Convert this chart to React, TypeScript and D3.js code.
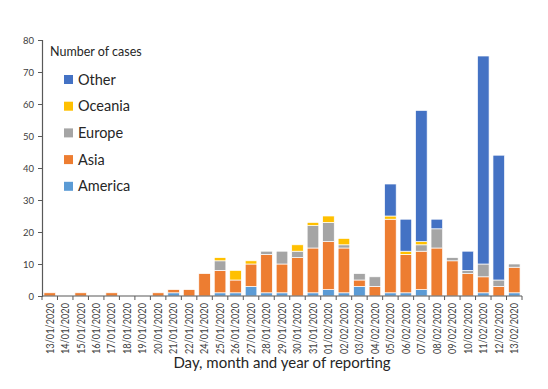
import React, { useRef, useEffect } from 'react';
import * as d3 from 'd3';

const dates = [
  '13/01/2020', '14/01/2020', '15/01/2020', '16/01/2020', '17/01/2020', '18/01/2020',
  '19/01/2020', '20/01/2020', '21/01/2020', '22/01/2020', '24/01/2020', '25/01/2020',
  '26/01/2020', '27/01/2020', '28/01/2020', '29/01/2020', '30/01/2020', '31/01/2020',
  '01/02/2020', '02/02/2020', '03/02/2020', '04/02/2020', '05/02/2020', '06/02/2020',
  '07/02/2020', '08/02/2020', '09/02/2020', '10/02/2020', '11/02/2020', '12/02/2020',
  '13/02/2020',
];

const america = [0, 0, 0, 0, 0, 0, 0, 0, 1, 0, 0, 1, 1, 3, 1, 1, 0, 1, 2, 1, 3, 0, 1, 1, 2, 0, 0, 0, 1, 0, 1];
const asia = [1, 0, 1, 0, 1, 0, 0, 1, 1, 2, 7, 7, 4, 7, 12, 9, 12, 14, 15, 14, 2, 3, 23, 12, 12, 15, 11, 7, 5, 3, 8];
const europe = [0, 0, 0, 0, 0, 0, 0, 0, 0, 0, 0, 3, 0, 0, 1, 4, 2, 7, 6, 1, 2, 3, 0, 0, 2, 6, 1, 1, 4, 2, 1];
const oceania = [0, 0, 0, 0, 0, 0, 0, 0, 0, 0, 0, 1, 3, 1, 0, 0, 2, 1, 2, 2, 0, 0, 1, 1, 1, 0, 0, 0, 0, 0, 0];
const other = [0, 0, 0, 0, 0, 0, 0, 0, 0, 0, 0, 0, 0, 0, 0, 0, 0, 0, 0, 0, 0, 0, 10, 10, 41, 3, 0, 6, 65, 39, 0];

const yTicks = [0, 10, 20, 30, 40, 50, 60, 70, 80];

// stacking order bottom -> top
const series = [
  { name: 'America', values: america, color: '#5b9bd5' },
  { name: 'Asia', values: asia, color: '#ed7d31' },
  { name: 'Europe', values: europe, color: '#a5a5a5' },
  { name: 'Oceania', values: oceania, color: '#ffc000' },
  { name: 'Other', values: other, color: '#4472c4' },
];

const FONT = 'Lato, "Open Sans", sans-serif';

export default function App() {
  const svgRef = useRef<SVGSVGElement>(null);

  useEffect(() => {
    const svg = d3.select(svgRef.current);
    svg.selectAll('*').remove();

    const left = 42, right = 522, top = 40, bottom = 296;

    const x = d3.scaleBand().domain(dates).range([left, right]).paddingInner(0.25).paddingOuter(0.125);
    const y = d3.scaleLinear().domain([0, 80]).range([bottom, top]);

    const rows = dates.map((d, i) => {
      const r: any = { date: d };
      series.forEach(s => { r[s.name] = s.values[i]; });
      return r;
    });
    const stacked = d3.stack().keys(series.map(s => s.name))(rows);

    stacked.forEach((layer, k) => {
      svg.append('g')
        .selectAll('rect')
        .data(layer.filter(d => d[1] - d[0] > 0))
        .enter().append('rect')
        .attr('x', d => x(d.data.date as string)!)
        .attr('width', x.bandwidth())
        .attr('y', d => y(d[1]))
        .attr('height', d => y(d[0]) - y(d[1]))
        .attr('fill', series[k].color)
        .attr('stroke', '#fff')
        .attr('stroke-width', 0.7);
    });

    const axisColor = '#595959';

    // y axis
    const yAxis = svg.append('g')
      .attr('transform', `translate(${left},0)`)
      .call(d3.axisLeft(y).tickValues(yTicks).tickSize(4).tickPadding(4));
    yAxis.select('.domain').attr('stroke', axisColor).attr('stroke-width', 1.2);
    yAxis.selectAll('.tick line').attr('stroke', axisColor);
    yAxis.selectAll('.tick text')
      .attr('fill', '#404040')
      .attr('font-family', FONT)
      .attr('font-size', 9.5);

    // x axis: ticks between categories
    const step = x.step();
    svg.append('line')
      .attr('x1', left).attr('x2', right)
      .attr('y1', bottom).attr('y2', bottom)
      .attr('stroke', axisColor).attr('stroke-width', 1.2);
    d3.range(dates.length + 1).forEach(i => {
      svg.append('line')
        .attr('x1', left + i * step).attr('x2', left + i * step)
        .attr('y1', bottom).attr('y2', bottom + 4)
        .attr('stroke', axisColor);
    });
    svg.append('g')
      .selectAll('text')
      .data(dates)
      .enter().append('text')
      .attr('transform', d => `translate(${x(d)! + x.bandwidth() / 2 + 3.8},${bottom + 7}) rotate(-90)`)
      .attr('text-anchor', 'end')
      .attr('font-family', FONT)
      .attr('font-size', 10.5)
      .attr('textLength', 51)
      .attr('lengthAdjust', 'spacingAndGlyphs')
      .attr('fill', '#404040')
      .text(d => d);

    // x axis title
    svg.append('text')
      .attr('x', 282)
      .attr('y', 368)
      .attr('text-anchor', 'middle')
      .attr('font-family', FONT)
      .attr('font-size', 15)
      .attr('fill', '#262626')
      .text('Day, month and year of reporting');

    // legend
    svg.append('text')
      .attr('x', 50)
      .attr('y', 56)
      .attr('font-family', FONT)
      .attr('font-size', 12.5)
      .attr('fill', '#262626')
      .text('Number of cases');

    const legendItems = [...series].reverse();
    legendItems.forEach((s, i) => {
      const cy = 79.5 + i * 26.7;
      svg.append('rect')
        .attr('x', 64).attr('y', cy - 4.5)
        .attr('width', 9).attr('height', 9)
        .attr('fill', s.color);
      svg.append('text')
        .attr('x', 78).attr('y', cy + 5)
        .attr('font-family', FONT)
        .attr('font-size', 14.5)
        .attr('fill', '#262626')
        .text(s.name);
    });
  }, []);

  return (
    <div style={{ position: 'absolute', left: 0, top: 0 }}>
      <svg ref={svgRef} width={548} height={389} style={{ display: 'block', background: '#fff' }} />
    </div>
  );
}
